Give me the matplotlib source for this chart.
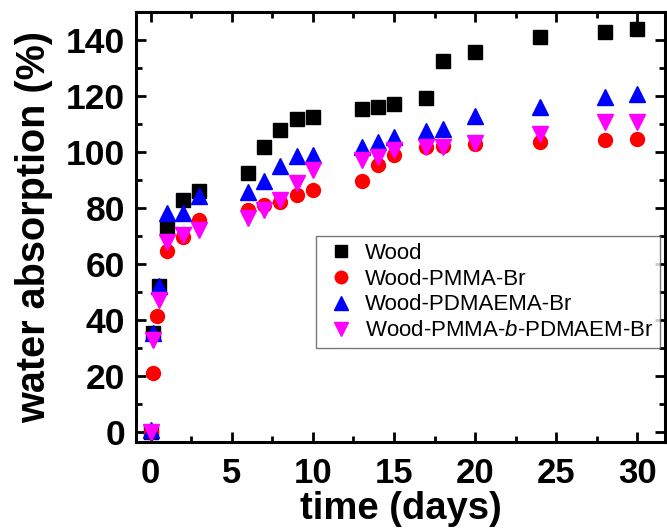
import matplotlib
matplotlib.use("Agg")
import matplotlib.pyplot as plt
from matplotlib.ticker import MultipleLocator

plt.rcParams['font.family'] = ['Liberation Sans', 'DejaVu Sans']
plt.rcParams['mathtext.fontset'] = 'custom'
plt.rcParams['mathtext.it'] = 'Liberation Sans:italic'
plt.rcParams['mathtext.rm'] = 'Liberation Sans'

# Data (time in days, water absorption in %)
t_wood = [0, 0.17, 0.5, 1, 2, 3, 6, 7, 8, 9, 10, 13, 14, 15, 17, 18, 20, 24, 28, 30]
wood = [0, 35.5, 52, 72.5, 83, 86, 92.6, 101.8, 107.8, 111.8, 112.6, 115.4, 116.2, 117, 119.2, 132.5, 135.6, 141, 143, 144]

t_pmma = [0, 0.17, 0.42, 1, 2, 3, 6, 7, 8, 9, 10, 13, 14, 15, 17, 18, 20, 24, 28, 30]
pmma = [0, 21, 41.5, 64.5, 69.5, 75.7, 79.2, 81, 82, 84.6, 86.4, 89.6, 95.2, 99, 101.8, 102, 102.8, 103.4, 104.3, 104.6]

t_pdma = [0, 0.17, 0.5, 1, 2, 3, 6, 7, 8, 9, 10, 13, 14, 15, 17, 18, 20, 24, 28, 30]
pdma = [0.7, 35.3, 52, 78.2, 78.3, 84.4, 85.7, 89.6, 95, 98.4, 99, 101.9, 103.5, 105.4, 107.4, 108.3, 112.8, 116, 119.6, 120.8]

t_block = [0, 0.17, 0.5, 1, 2, 3, 6, 7, 8, 9, 10, 13, 14, 15, 17, 18, 20, 24, 28, 30]
block = [0, 32.9, 47, 67.8, 70.2, 72.1, 76.4, 79.3, 82.9, 88.9, 93.6, 97.1, 98.2, 100.7, 101.8, 101.8, 103.2, 106.4, 110.7, 110.7]

labels = ['Wood', 'Wood-PMMA-Br', 'Wood-PDMAEMA-Br', 'Wood-PMMA-$\\it{b}$-PDMAEM-Br']

fig = plt.figure(figsize=(6.67, 5.3), dpi=100)
ax = fig.add_axes([136/667, 88/530, 529/667, 430/530])

ms = 10
ax.plot(t_wood, wood, 's', color='black', ms=ms, label=labels[0], ls='none')
ax.plot(t_pmma, pmma, 'o', color='#ff0000', ms=ms, label=labels[1], ls='none')
ax.plot(t_pdma, pdma, '^', color='#0000ff', ms=ms + 1, label=labels[2], ls='none')
ax.plot(t_block, block, 'v', color='#ff00ff', ms=ms + 1, label=labels[3], ls='none')

ax.set_xlim(-0.9, 31.7)
ax.set_ylim(-3.6, 150)
ax.xaxis.set_major_locator(MultipleLocator(5))
ax.xaxis.set_minor_locator(MultipleLocator(2.5))
ax.yaxis.set_major_locator(MultipleLocator(20))
ax.yaxis.set_minor_locator(MultipleLocator(10))

for s in ax.spines.values():
    s.set_linewidth(2.2)
ax.tick_params(which='both', direction='in', top=True, right=True, width=2)
ax.tick_params(which='major', length=7)
ax.tick_params(which='minor', length=4)
ax.tick_params(axis='x', which='major', labelsize=25, pad=11)
ax.tick_params(axis='y', which='major', labelsize=25.5, pad=8)
for lab in ax.get_xticklabels() + ax.get_yticklabels():
    lab.set_fontweight('bold')

ax.set_xlabel('time (days)', fontsize=27.5, fontweight='bold')
ax.set_ylabel('water absorption (%)', fontsize=28.5, fontweight='bold', labelpad=9)

leg = ax.legend(loc='upper left', bbox_to_anchor=(0.34, 0.479), borderaxespad=0,
                fontsize=16, frameon=True, fancybox=False, handlelength=1.7,
                handletextpad=0.2, labelspacing=0.22, borderpad=0.3, markerscale=0.9)
leg.get_frame().set_edgecolor('#555555')
leg.get_frame().set_linewidth(1.0)

# place the x label directly below the tick labels without overlapping
fig.canvas.draw()
renderer = fig.canvas.get_renderer()
bottoms = [t.get_window_extent(renderer).y0 for t in ax.get_xticklabels() if t.get_text()]
ybot = min(bottoms) - 1
ax_bb = ax.get_window_extent(renderer)
ax.xaxis.label.set_va('top')
ax.xaxis.set_label_coords(0.5, (ybot - ax_bb.y0) / ax_bb.height)

fig.savefig('out.png', dpi=100)
